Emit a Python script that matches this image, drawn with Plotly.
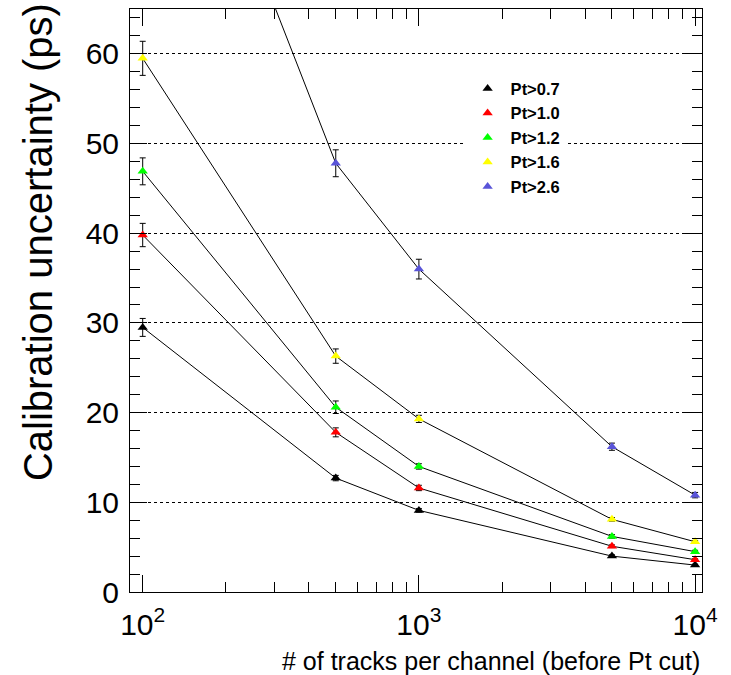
import plotly.graph_objects as go

# ---- data ----
tracks = [100, 500, 1000, 5000, 10000]
labels = ["Pt>0.7", "Pt>1.0", "Pt>1.2", "Pt>1.6", "Pt>2.6"]
colors = ["#000000", "#ff0000", "#00ff00", "#ffff00", "#5954d8"]

unc_07 = [29.5, 12.7, 9.1, 4.0, 3.0]
err_07 = [1.0, 0.3, 0.2, 0.15, 0.1]
unc_10 = [39.8, 17.8, 11.6, 5.1, 3.6]
err_10 = [1.3, 0.5, 0.3, 0.15, 0.1]
unc_12 = [46.9, 20.6, 14.0, 6.2, 4.5]
err_12 = [1.5, 0.7, 0.3, 0.2, 0.15]
unc_16 = [59.5, 26.3, 19.3, 8.1, 5.6]
err_16 = [1.9, 0.8, 0.4, 0.2, 0.15]
unc_26 = [103.0, 47.8, 36.0, 16.2, 10.8]
err_26 = [3.0, 1.5, 1.1, 0.4, 0.3]

series = [unc_07, unc_10, unc_12, unc_16, unc_26]
errors = [err_07, err_10, err_12, err_16, err_26]

y_ticks = [0, 10, 20, 30, 40, 50, 60]
x_ticks = [100, 1000, 10000]
x_ticktext = ["10<sup>2</sup>", "10<sup>3</sup>", "10<sup>4</sup>"]
x_minor = [m * 10 ** e for e in (1, 2, 3) for m in range(2, 10)] + [20000]

FONT = "Liberation Sans, Arial, Helvetica, sans-serif"

fig = go.Figure()
for lab, col, ys, es in zip(labels, colors, series, errors):
    fig.add_trace(go.Scatter(
        x=tracks, y=ys, mode="lines+markers",
        line=dict(color="black", width=1),
        marker=dict(symbol="triangle-up", size=9, color=col, line=dict(width=0)),
        error_y=dict(type="data", array=es, color="black", thickness=1, width=3),
        showlegend=False,
    ))
for lab, col in zip(labels, colors):
    fig.add_trace(go.Scatter(
        x=[None], y=[None], mode="markers", name=lab,
        marker=dict(symbol="triangle-up", size=9, color=col, line=dict(width=0)),
        showlegend=True,
    ))

fig.update_layout(
    width=731, height=675,
    margin=dict(l=130, r=29, t=9, b=83),
    paper_bgcolor="white", plot_bgcolor="white",
    font=dict(family=FONT, color="black"),
    showlegend=True,
    legend=dict(
        x=0.585, y=0.893, xanchor="left", yanchor="top",
        bgcolor="white", borderwidth=0,
        font=dict(family=FONT, size=16.5, color="black", weight="bold"),
        itemwidth=36,
    ),
)

fig.update_xaxes(
    type="log", range=[1.954, 4.025],
    tickvals=x_ticks, ticktext=x_ticktext,
    tickfont=dict(size=30, family=FONT),
    ticks="inside", ticklen=17, tickwidth=1, tickcolor="black",
    minor=dict(tickvals=x_minor, ticks="inside", ticklen=10, tickwidth=1, tickcolor="black", showgrid=False),
    showline=True, linecolor="black", linewidth=1, mirror="ticks",
    showgrid=False, zeroline=False,
    ticklabelstandoff=6,
)
fig.update_yaxes(
    range=[0, 65],
    tickvals=y_ticks,
    tickfont=dict(size=30, family=FONT),
    ticks="inside", ticklen=17, tickwidth=1, tickcolor="black",
    minor=dict(dtick=2, ticks="inside", ticklen=10, tickwidth=1, tickcolor="black", showgrid=False),
    showline=True, linecolor="black", linewidth=1, mirror="ticks",
    showgrid=True, gridcolor="black", gridwidth=1, griddash="dot",
    zeroline=False,
    ticklabelstandoff=4,
)

fig.add_annotation(
    text="Calibration uncertainty (ps)", textangle=-90,
    xref="paper", yref="paper", x=-0.161, y=0.6,
    xanchor="center", yanchor="middle", showarrow=False,
    font=dict(family=FONT, size=40, color="black"),
)
fig.add_annotation(
    text="# of tracks per channel (before Pt cut)",
    xref="paper", yref="paper", x=1.0, y=-0.118,
    xanchor="right", yanchor="middle", showarrow=False,
    font=dict(family=FONT, size=25, color="black"),
)

fig.write_html("out.html")
